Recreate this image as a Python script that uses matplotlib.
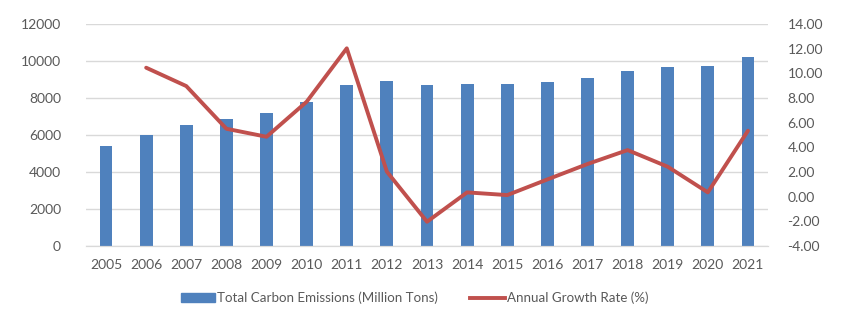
import matplotlib.pyplot as plt
from matplotlib.patches import Patch
from matplotlib.lines import Line2D

years = [str(y) for y in range(2005, 2022)]
emissions = [5405, 5984, 6524, 6883, 7207, 7784, 8721, 8901, 8703,
             8739, 8757, 8865, 9099, 9459, 9693, 9730, 10234]
growth_years = years[1:]
growth = [10.46, 8.97, 5.51, 4.86, 7.70, 12.03, 2.03, -2.03,
          0.35, 0.13, 1.40, 2.65, 3.78, 2.43, 0.35, 5.35]

bar_color = '#4f81bd'
line_color = '#c0504d'
text_color = '#595959'
grid_color = '#d9d9d9'

plt.rcParams['font.family'] = ['Lato', 'DejaVu Sans']

fig = plt.figure(figsize=(8.48, 3.25), dpi=100)
ax = fig.add_axes([0.1014, 0.243, 0.8043, 0.683])
ax2 = ax.twinx()

x = list(range(len(years)))
ax.bar(x, emissions, width=0.32, color=bar_color, zorder=2)
ax.set_xlim(-0.5, len(years) - 0.5)
ax.set_ylim(0, 12000)
ax.set_yticks(range(0, 12001, 2000))
ax.set_xticks(x)
ax.set_xticklabels(years)
ax.grid(axis='y', color=grid_color, linewidth=1, zorder=0)
ax.set_axisbelow(True)

gx = [years.index(y) for y in growth_years]
ax2.plot(gx, growth, color=line_color, linewidth=2.8, solid_capstyle='round', zorder=3)
ax2.set_ylim(-4, 14)
ax2.set_yticks(range(-4, 15, 2))
ax2.set_yticklabels(['%.2f' % v for v in range(-4, 15, 2)])

for a in (ax, ax2):
    for s in ['top', 'left', 'right']:
        a.spines[s].set_visible(False)
    a.spines['bottom'].set_color(grid_color)
    a.tick_params(length=0, labelsize=10, colors=text_color)
ax.tick_params(axis='y', pad=18)
ax.tick_params(axis='x', pad=9)
ax2.tick_params(axis='y', pad=14)

handles = [Patch(color=bar_color), Line2D([0], [0], color=line_color, linewidth=2.8)]
labels = ['Total Carbon Emissions (Million Tons)', 'Annual Growth Rate (%)']
fig.legend(handles, labels, loc='center', bbox_to_anchor=(0.489, 0.083), ncol=2,
           frameon=False, fontsize=9.6, labelcolor=text_color, handlelength=2.6,
           handleheight=0.6, handletextpad=0.15, columnspacing=2.4)

fig.savefig('out.png', dpi=100)
